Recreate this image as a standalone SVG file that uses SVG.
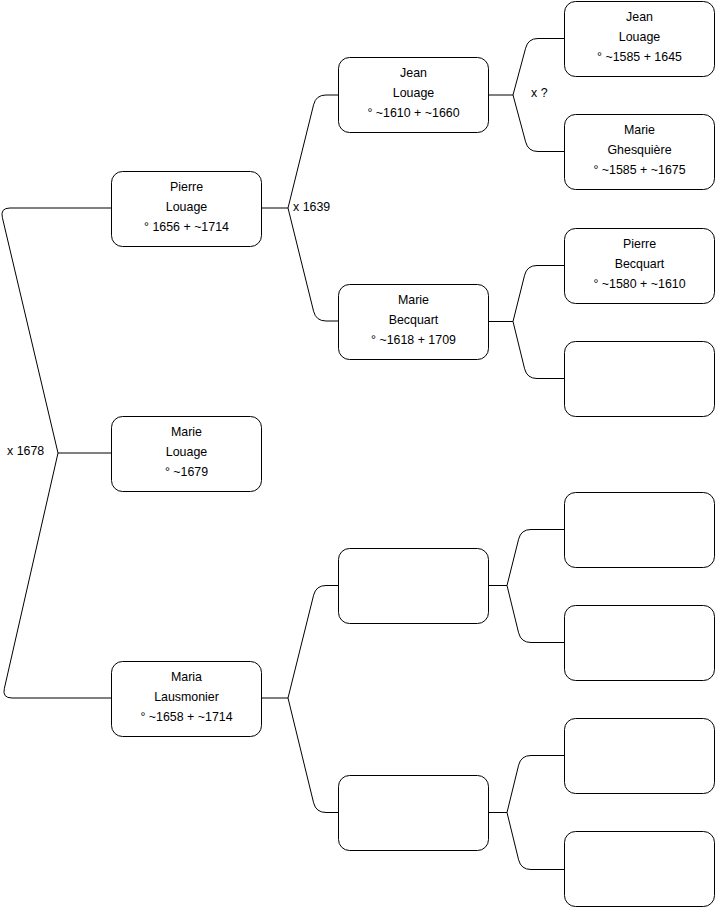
<svg xmlns="http://www.w3.org/2000/svg" width="716" height="908" viewBox="0 0 716 908">
<style>
.box{fill:#fff;stroke:#000;stroke-width:1}
.c{fill:none;stroke:#000;stroke-width:1}
text{font-family:"Liberation Sans",Arial,sans-serif;font-size:12.4px;fill:#000;dominant-baseline:central}
.m{text-anchor:middle}
</style>
<rect width="716" height="908" fill="#fff"/>
<g id="connectors">
<path class="c" d="M111,208 L10,208 Q0,208 2.4,217.7 L58,453 L4.4,688.3 Q2,698 12,698 L111,698 M58,453 L111,453"/>
<path class="c" d="M262,208 L288,208 L313.6,104.7 Q316,95 326,95 L338,95 M288,208 L313.6,311.3 Q316,321 326,321 L338,321"/>
<path class="c" d="M262,698 L288,698 L313.6,595.2 Q316,585.5 326,585.5 L338,585.5 M288,698 L313.6,802.8 Q316,812.5 326,812.5 L338,812.5"/>
<path class="c" d="M489,95 L513,95 L525.6,48.2 Q528,38.5 538,38.5 L564,38.5 M513,95 L525.6,141.8 Q528,151.5 538,151.5 L564,151.5"/>
<path class="c" d="M489,321.5 L513,321.5 L524.6,275.2 Q527,265.5 537,265.5 L564,265.5 M513,321.5 L524.6,368.8 Q527,378.5 537,378.5 L564,378.5"/>
<path class="c" d="M489,585.5 L507,585.5 L518.6,539.2 Q521,529.5 531,529.5 L564,529.5 M507,585.5 L518.6,632.8 Q521,642.5 531,642.5 L564,642.5"/>
<path class="c" d="M489,812.5 L507,812.5 L518.6,765.2 Q521,755.5 531,755.5 L564,755.5 M507,812.5 L518.6,859.8 Q521,869.5 531,869.5 L564,869.5"/>
<text x="7" y="451">x 1678</text>
<text x="293" y="207">x 1639</text>
<text x="531" y="93">x ?</text>
</g>
<g id="pierre-louage">
<rect class="box" x="111.5" y="171.5" width="150" height="75" rx="11"/>
<text class="m" x="186.5" y="187">Pierre</text>
<text class="m" x="186.5" y="207">Louage</text>
<text class="m" x="186.5" y="227">° 1656 + ~1714</text>
</g>
<g id="marie-louage">
<rect class="box" x="111.5" y="416.5" width="150" height="75" rx="11"/>
<text class="m" x="186.5" y="432">Marie</text>
<text class="m" x="186.5" y="452">Louage</text>
<text class="m" x="186.5" y="472">° ~1679</text>
</g>
<g id="maria-lausmonier">
<rect class="box" x="111.5" y="661.5" width="150" height="75" rx="11"/>
<text class="m" x="186.5" y="677">Maria</text>
<text class="m" x="186.5" y="697">Lausmonier</text>
<text class="m" x="186.5" y="717">° ~1658 + ~1714</text>
</g>
<g id="jean-louage-1610">
<rect class="box" x="338.5" y="57.5" width="150" height="75" rx="11"/>
<text class="m" x="413.5" y="73">Jean</text>
<text class="m" x="413.5" y="93">Louage</text>
<text class="m" x="413.5" y="113">° ~1610 + ~1660</text>
</g>
<g id="marie-becquart">
<rect class="box" x="338.5" y="284.5" width="150" height="75" rx="11"/>
<text class="m" x="413.5" y="300">Marie</text>
<text class="m" x="413.5" y="320">Becquart</text>
<text class="m" x="413.5" y="340">° ~1618 + 1709</text>
</g>
<g id="empty-g2-a"><rect class="box" x="338.5" y="548.5" width="150" height="75" rx="11"/></g>
<g id="empty-g2-b"><rect class="box" x="338.5" y="775.5" width="150" height="75" rx="11"/></g>
<g id="jean-louage-1585">
<rect class="box" x="564.5" y="1.5" width="150" height="75" rx="11"/>
<text class="m" x="639.5" y="17">Jean</text>
<text class="m" x="639.5" y="37">Louage</text>
<text class="m" x="639.5" y="57">° ~1585 + 1645</text>
</g>
<g id="marie-ghesquiere">
<rect class="box" x="564.5" y="114.5" width="150" height="75" rx="11"/>
<text class="m" x="639.5" y="130">Marie</text>
<text class="m" x="639.5" y="150">Ghesquière</text>
<text class="m" x="639.5" y="170">° ~1585 + ~1675</text>
</g>
<g id="pierre-becquart">
<rect class="box" x="564.5" y="228.5" width="150" height="75" rx="11"/>
<text class="m" x="639.5" y="244">Pierre</text>
<text class="m" x="639.5" y="264">Becquart</text>
<text class="m" x="639.5" y="284">° ~1580 + ~1610</text>
</g>
<g id="empty-g3-4"><rect class="box" x="564.5" y="341.5" width="150" height="75" rx="11"/></g>
<g id="empty-g3-5"><rect class="box" x="564.5" y="492.5" width="150" height="75" rx="11"/></g>
<g id="empty-g3-6"><rect class="box" x="564.5" y="605.5" width="150" height="75" rx="11"/></g>
<g id="empty-g3-7"><rect class="box" x="564.5" y="718.5" width="150" height="75" rx="11"/></g>
<g id="empty-g3-8"><rect class="box" x="564.5" y="831.5" width="150" height="75" rx="11"/></g>
</svg>
